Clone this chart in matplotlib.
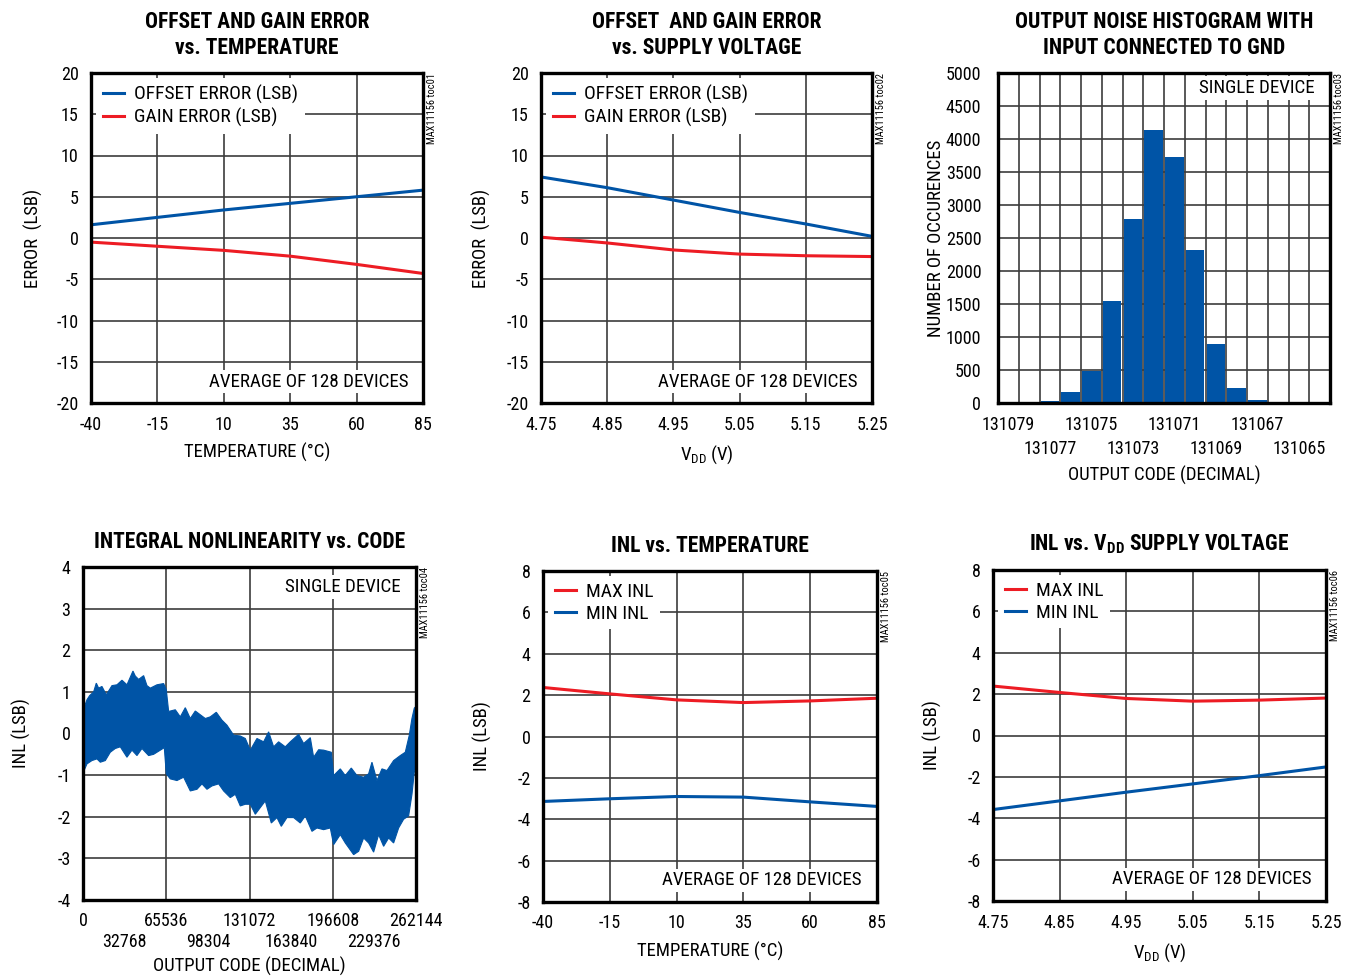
import matplotlib
matplotlib.use("Agg")
import matplotlib.pyplot as plt
import numpy as np

plt.rcParams['font.family'] = ['Roboto Condensed', 'DejaVu Sans']
plt.rcParams['mathtext.default'] = 'regular'
plt.rcParams['axes.unicode_minus'] = False

BLUE = '#0054a6'
RED = '#ed1c24'
GRID = '#3c3c3c'

# ---- data ----
temp = [-40, -15, 10, 35, 60, 85]
offset_vs_temp = [1.6, 2.5, 3.4, 4.2, 5.0, 5.8]
gain_vs_temp = [-0.5, -1.0, -1.5, -2.2, -3.2, -4.3]

vdd = [4.75, 4.85, 4.95, 5.05, 5.15, 5.25]
offset_vs_vdd = [7.4, 6.1, 4.6, 3.1, 1.7, 0.2]
gain_vs_vdd = [0.1, -0.6, -1.45, -1.95, -2.15, -2.25]

hist_codes = [131078, 131077, 131076, 131075, 131074, 131073, 131072,
              131071, 131070, 131069, 131068, 131067, 131066]
hist_counts = [15, 25, 172, 490, 1550, 2793, 4141, 3732, 2323, 899, 232, 40, 15]
hist_row1 = [131079, 131075, 131071, 131067]
hist_row2 = [131077, 131073, 131069, 131065]

# INL vs code: upper / lower envelope of the noise band
inl_up_code = [0, 3123, 5222, 8371, 10470, 12307, 14931, 18342, 22803, 26739,
               30675, 34611, 39334, 41171, 43795, 47731, 50355, 52979, 58227,
               63475, 65574, 67411, 72659, 76595, 80531, 84467, 88403, 92339,
               96275, 100211, 104934, 109395, 113331, 118579, 123827, 127763,
               131699, 136947, 142195, 146131, 150067, 154003, 159251, 163187,
               169747, 173683, 178931, 181555, 185491, 189427, 195462, 197299,
               202547, 206483, 211206, 215667, 220915, 224851, 227475, 231411,
               235347, 239283, 244531, 249779, 253715, 256864, 258963, 260800,
               262144]
inl_up = [0.55, 0.81, 0.91, 1.0, 1.21, 1.09, 1.13, 0.93, 1.15, 1.17,
          1.28, 1.17, 1.5, 1.38, 1.3, 1.39, 1.15, 1.09, 1.17,
          1.2, 1.05, 0.53, 0.57, 0.40, 0.62, 0.36, 0.54, 0.45,
          0.36, 0.40, 0.51, 0.32, 0.2, -0.04, -0.06, -0.12,
          -0.4, -0.12, -0.2, 0.04, -0.32, -0.2, -0.32, -0.2,
          -0.02, -0.24, -0.1, -0.57, -0.39, -0.4, -0.45, -1.01,
          -0.85, -1.01, -0.83, -1.01, -1.05, -0.97, -0.69, -1.13,
          -0.85, -0.89, -0.65, -0.53, -0.45, -0.04, 0.36, 0.61,
          0.65]
inl_lo_code = [0, 3123, 7059, 10995, 13619, 17555, 21491, 25427, 29363, 34611,
               38547, 42483, 46419, 51667, 55603, 60851, 64000, 65574, 68723,
               73971, 79219, 84467, 89715, 93651, 97587, 101523, 106771, 110707,
               115955, 119891, 123827, 127763, 131699, 135635, 139571, 143507,
               148230, 152691, 156102, 160563, 165811, 171059, 174995, 180243,
               184179, 189427, 194675, 197299, 202547, 206483, 213043, 216979,
               220915, 224851, 228787, 232723, 236659, 240595, 244531, 248467,
               252403, 256339, 258963, 260800, 262144]
inl_lo = [-0.95, -0.73, -0.65, -0.61, -0.69, -0.65, -0.45, -0.36, -0.32, -0.57,
          -0.40, -0.53, -0.36, -0.53, -0.5, -0.4, -0.34, -0.97, -1.09,
          -1.13, -1.05, -1.38, -1.34, -1.21, -1.34, -1.26, -1.21, -1.38,
          -1.54, -1.46, -1.74, -1.70, -1.70, -1.94, -1.78, -1.62,
          -2.15, -2.02, -2.23, -2.02, -2.02, -2.15, -1.98, -2.35,
          -2.27, -2.31, -2.27, -2.67, -2.43, -2.63, -2.91, -2.83,
          -2.51, -2.63, -2.85, -2.43, -2.71, -2.51, -2.63, -2.27,
          -2.06, -1.98, -1.46, -0.93, -0.8]
code_row1 = [0, 65536, 131072, 196608, 262144]
code_row2 = [32768, 98304, 163840, 229376]

max_inl_temp = [2.37, 2.06, 1.77, 1.64, 1.72, 1.85]
min_inl_temp = [-3.14, -3.01, -2.9, -2.93, -3.16, -3.38]
max_inl_vdd = [2.39, 2.08, 1.79, 1.66, 1.71, 1.81]
min_inl_vdd = [-3.58, -3.16, -2.74, -2.34, -1.94, -1.52]

W, H = 1354, 976
fig = plt.figure(figsize=(W / 100, H / 100), dpi=100)


def make_axes(l, t, r, b):
    return fig.add_axes([l / W, 1 - b / H, (r - l) / W, (b - t) / H])


def style(ax, title, xlabel, ylabel, tag):
    for s in ax.spines.values():
        s.set_linewidth(2.4)
        s.set_zorder(5)
    ax.tick_params(length=0, labelsize=13, pad=9)
    ax.grid(True, color=GRID, lw=1.2)
    ax.set_axisbelow(True)
    ax.set_title(title, fontsize=15.5, fontweight='bold', pad=14, linespacing=1.2)
    ax.set_xlabel(xlabel, fontsize=13.5, labelpad=7)
    ax.set_ylabel(ylabel, fontsize=13.5)
    ax.yaxis.set_label_coords(-0.152, 0.5)
    ax.text(1.012, 1.0, tag, transform=ax.transAxes, rotation=90,
            ha='left', va='top', fontsize=7.5)


def second_row(ax, ticks, pad):
    sec = ax.secondary_xaxis('bottom')
    sec.set_xticks(ticks)
    sec.set_xticklabels([str(t) for t in ticks])
    sec.tick_params(length=0, labelsize=13, pad=pad)
    for s in sec.spines.values():
        s.set_visible(False)


def note(ax, txt, y):
    ax.text(0.955, y, txt, transform=ax.transAxes, ha='right', va='center',
            fontsize=13.7, zorder=4,
            bbox=dict(facecolor='white', edgecolor='none', pad=2))


def legend(ax):
    ax.legend(loc='upper left', fontsize=14, frameon=True, fancybox=False,
              edgecolor='none', facecolor='white', framealpha=1,
              handlelength=1.1, handletextpad=0.5, labelspacing=0.2,
              borderaxespad=0.25, borderpad=0.35)


# ---- offset/gain vs temperature ----
ax1 = make_axes(91, 73, 423, 403)
ax1.plot(temp, offset_vs_temp, color=BLUE, lw=2.2, label='OFFSET ERROR (LSB)')
ax1.plot(temp, gain_vs_temp, color=RED, lw=2.2, label='GAIN ERROR (LSB)')
ax1.set_xlim(-40, 85)
ax1.set_ylim(-20, 20)
ax1.set_xticks(temp)
ax1.set_yticks(range(-20, 21, 5))
style(ax1, 'OFFSET AND GAIN ERROR\nvs. TEMPERATURE', 'TEMPERATURE (°C)',
      'ERROR  (LSB)', 'MAX11156 toc01')
ax1.yaxis.set_label_coords(-0.145, 0.5)
legend(ax1)
note(ax1, 'AVERAGE OF 128 DEVICES', 0.065)

# ---- offset/gain vs supply ----
ax2 = make_axes(541, 73, 872, 403)
ax2.plot(vdd, offset_vs_vdd, color=BLUE, lw=2.2, label='OFFSET ERROR (LSB)')
ax2.plot(vdd, gain_vs_vdd, color=RED, lw=2.2, label='GAIN ERROR (LSB)')
ax2.set_xlim(4.75, 5.25)
ax2.set_ylim(-20, 20)
ax2.set_xticks(vdd)
ax2.set_xticklabels([f'{v:.2f}' for v in vdd])
ax2.set_yticks(range(-20, 21, 5))
style(ax2, 'OFFSET  AND GAIN ERROR\nvs. SUPPLY VOLTAGE', '$V_{DD}$ (V)',
      'ERROR  (LSB)', 'MAX11156 toc02')
legend(ax2)
note(ax2, 'AVERAGE OF 128 DEVICES', 0.065)

# ---- noise histogram ----
ax3 = make_axes(998, 73, 1330, 403)
ax3.bar(hist_codes, hist_counts, width=0.9, color=BLUE, zorder=3)
ax3.set_xlim(131079.5, 131063.5)
ax3.set_ylim(0, 5000)
ax3.set_yticks(range(0, 5001, 500))
ax3.set_xticks(np.arange(131079.5, 131063, -1), minor=True)
ax3.set_xticks(hist_row1)
ax3.set_xticklabels([str(c) for c in hist_row1])
style(ax3, 'OUTPUT NOISE HISTOGRAM WITH\nINPUT CONNECTED TO GND',
      'OUTPUT CODE (DECIMAL)', 'NUMBER OF OCCURENCES', 'MAX11156 toc03')
ax3.grid(False, axis='x', which='major')
ax3.grid(True, axis='x', which='minor', color=GRID, lw=1.2)
ax3.tick_params(which='minor', length=0)
ax3.tick_params(axis='y', pad=12)
ax3.yaxis.set_label_coords(-0.16, 0.5)
ax3.xaxis.set_label_coords(0.5, -0.19)
second_row(ax3, hist_row2, 27)
note(ax3, 'SINGLE DEVICE', 0.955)

# ---- INL vs code ----
ax4 = make_axes(83, 567, 416, 900)
ax4.fill(inl_up_code + inl_lo_code[::-1], inl_up + inl_lo[::-1],
         color=BLUE, lw=0.8, ec=BLUE, zorder=3)
ax4.set_xlim(0, 262144)
ax4.set_ylim(-4, 4)
ax4.set_xticks(code_row1)
ax4.set_xticklabels([str(c) for c in code_row1])
ax4.set_yticks(range(-4, 5))
style(ax4, 'INTEGRAL NONLINEARITY vs. CODE', 'OUTPUT CODE (DECIMAL)',
      'INL (LSB)', 'MAX11156 toc04')
ax4.yaxis.set_label_coords(-0.156, 0.5)
ax4.xaxis.set_label_coords(0.5, -0.172)
second_row(ax4, code_row2, 24)
note(ax4, 'SINGLE DEVICE', 0.94)

# ---- INL vs temperature ----
ax5 = make_axes(543, 571, 877, 902)
ax5.plot(temp, max_inl_temp, color=RED, lw=2.2, label='MAX INL')
ax5.plot(temp, min_inl_temp, color=BLUE, lw=2.2, label='MIN INL')
ax5.set_xlim(-40, 85)
ax5.set_ylim(-8, 8)
ax5.set_xticks(temp)
ax5.set_yticks(range(-8, 9, 2))
style(ax5, 'INL vs. TEMPERATURE', 'TEMPERATURE (°C)', 'INL (LSB)',
      'MAX11156 toc05')
legend(ax5)
note(ax5, 'AVERAGE OF 128 DEVICES', 0.065)

# ---- INL vs supply ----
ax6 = make_axes(993, 570, 1326, 901)
ax6.plot(vdd, max_inl_vdd, color=RED, lw=2.2, label='MAX INL')
ax6.plot(vdd, min_inl_vdd, color=BLUE, lw=2.2, label='MIN INL')
ax6.set_xlim(4.75, 5.25)
ax6.set_ylim(-8, 8)
ax6.set_xticks(vdd)
ax6.set_xticklabels([f'{v:.2f}' for v in vdd])
ax6.set_yticks(range(-8, 9, 2))
style(ax6, 'INL vs. $V_{DD}$ SUPPLY VOLTAGE', '$V_{DD}$ (V)', 'INL (LSB)',
      'MAX11156 toc06')
legend(ax6)
note(ax6, 'AVERAGE OF 128 DEVICES', 0.065)

fig.savefig('out.png', dpi=100, facecolor='white')
